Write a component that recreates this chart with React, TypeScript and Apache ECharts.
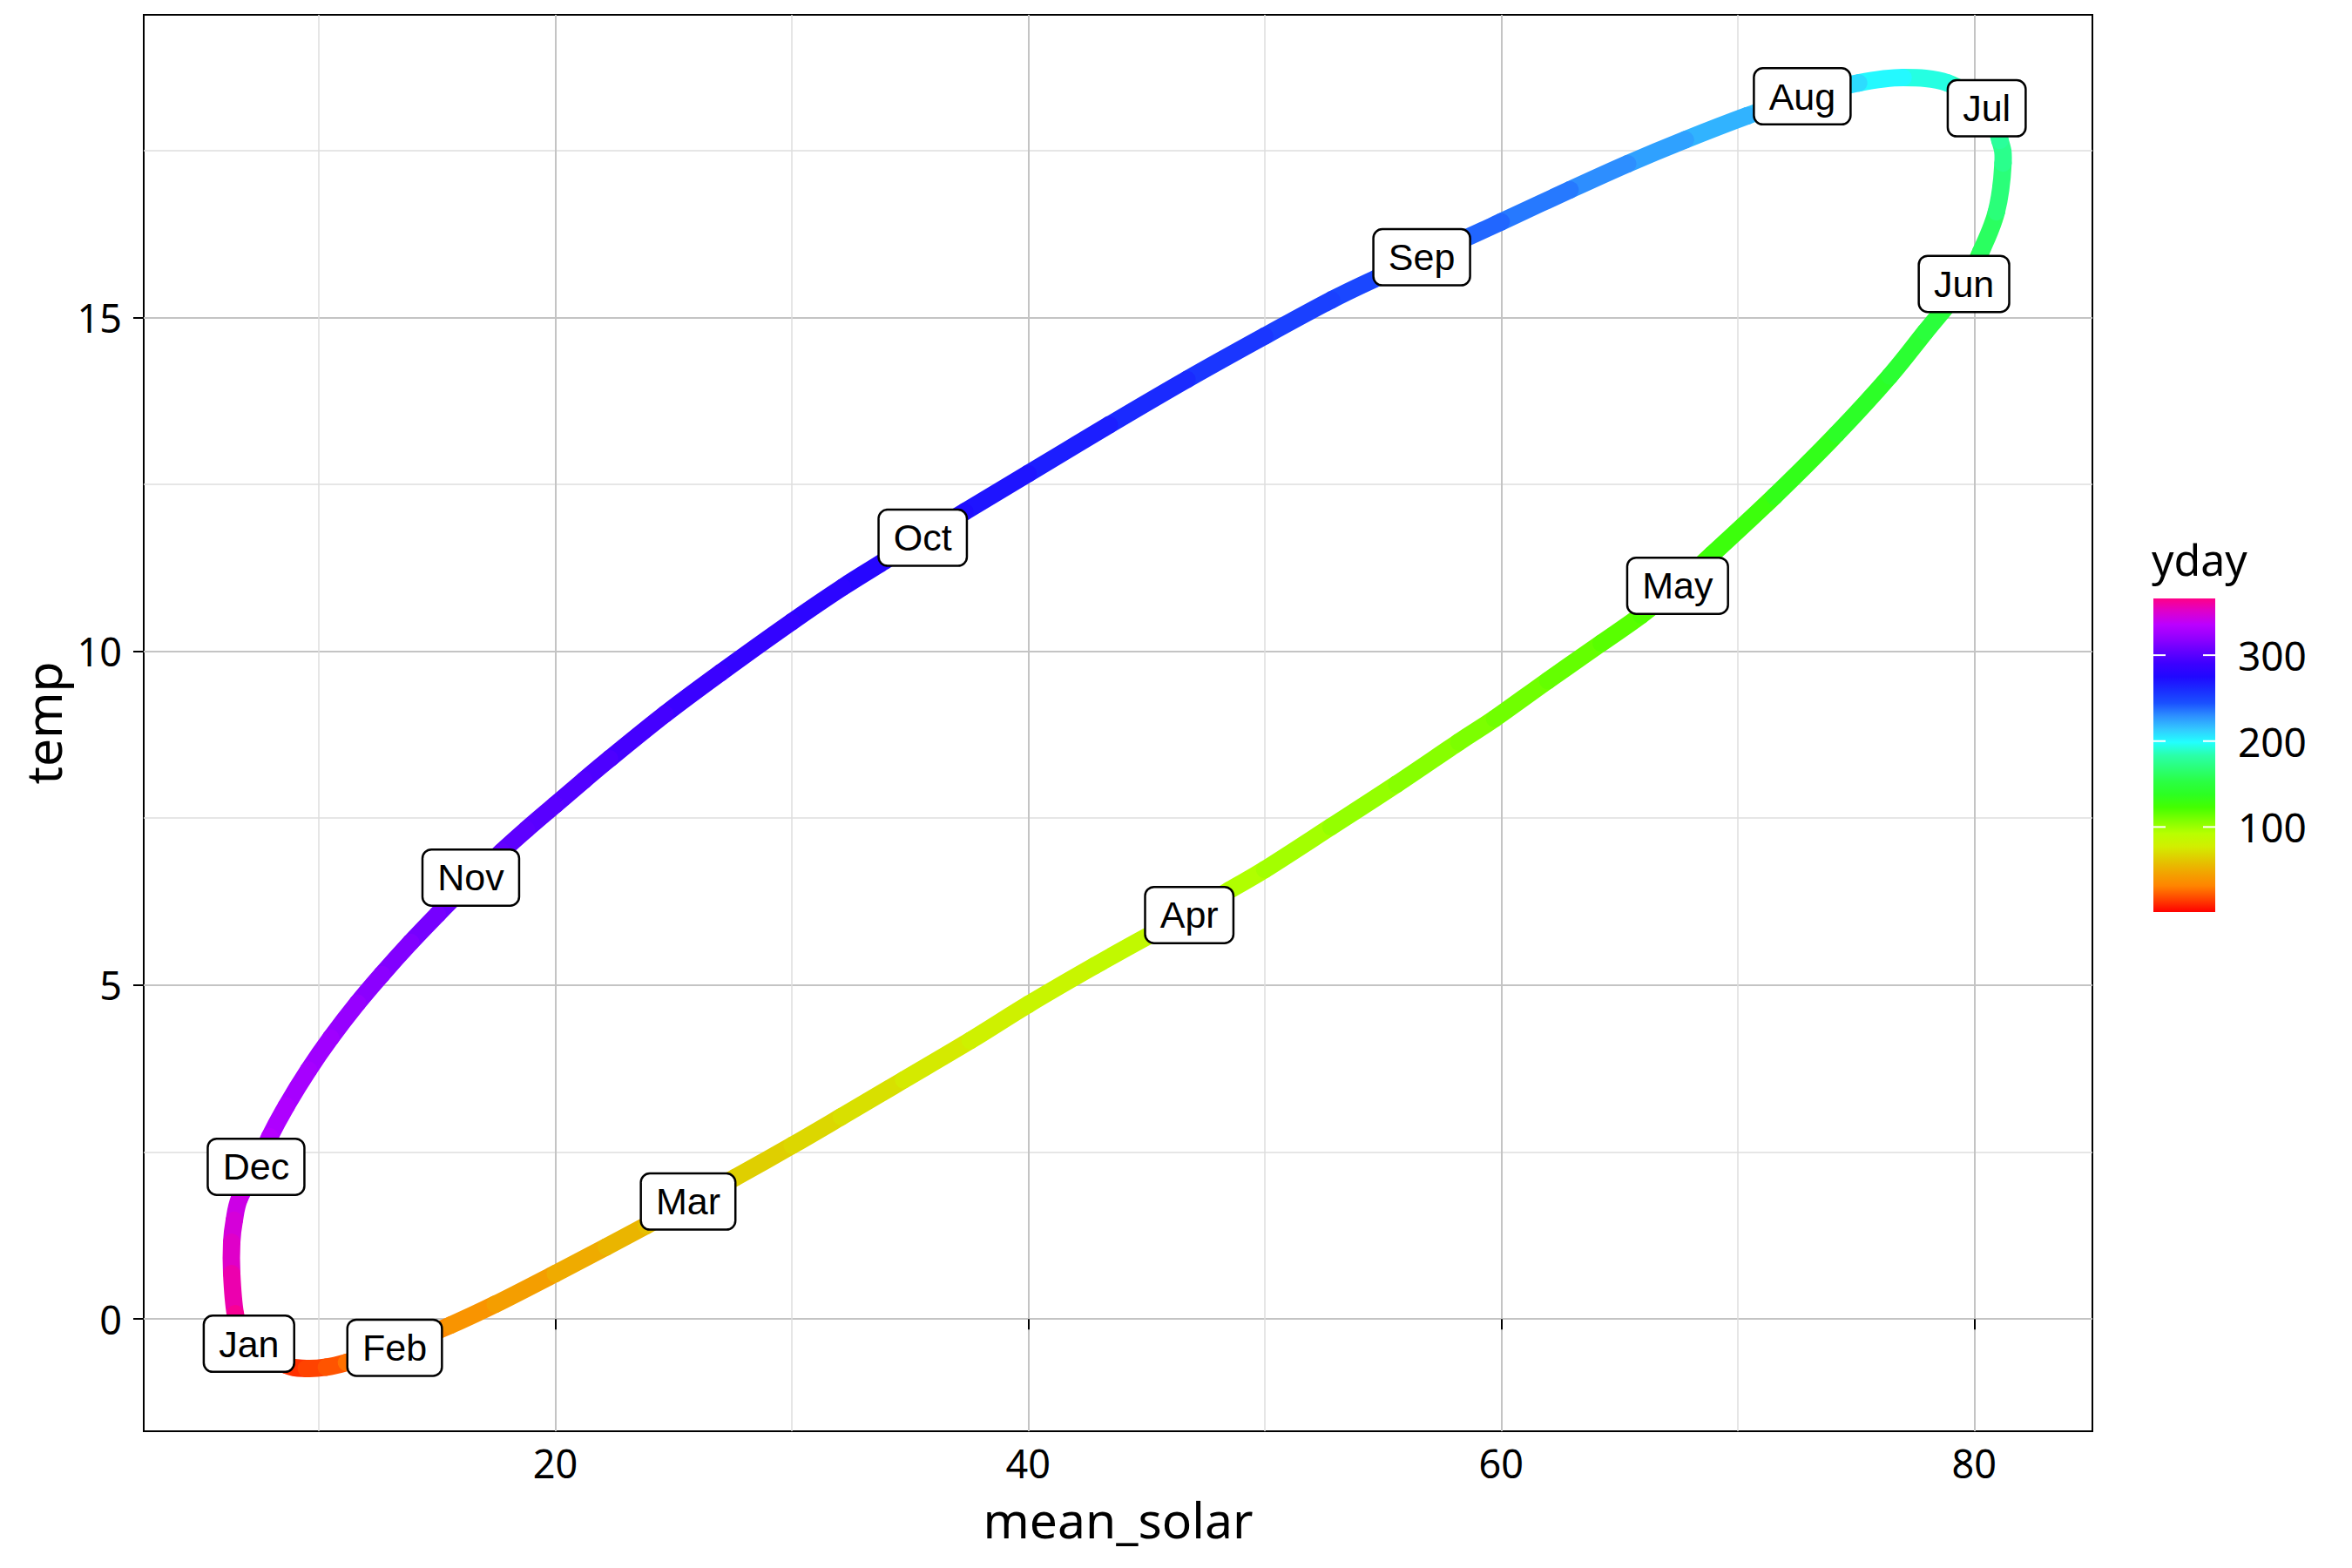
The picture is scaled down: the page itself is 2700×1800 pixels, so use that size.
import { useEffect, useRef } from "react";
import * as echarts from "echarts";

// path: mean_solar, temp and the day of year at each point
const pathX = [
  7.05, 8.63, 9.47, 10.32, 11.17, 13.21, 15.58, 17.46, 20.0, 22.16, 23.85, 25.62, 27.61, 30.02, 32.1,
  34.73, 37.55, 40.0, 42.81, 45.25, 46.81, 48.5, 50.0, 52.8, 55.58, 58.21, 59.72, 61.97, 64.23, 65.92,
  67.46, 68.92, 71.55, 74.18, 76.43, 77.93, 79.57, 80.28, 80.94, 81.22, 81.09, 80.53, 78.87,
  77.0, 75.12, 72.73, 70.42, 67.79, 65.35, 62.91, 60.0, 58.4, 56.64, 54.81, 52.82, 50.0, 46.71, 43.43,
  40.0, 37.32, 35.54, 33.92, 32.16, 30.0, 27.0, 24.65, 22.3, 21.22, 20.0, 18.78, 17.74, 16.43, 15.02,
  13.89, 12.67, 11.64, 10.51, 9.57, 8.63, 7.93, 7.35, 6.65, 6.43, 6.32, 6.32, 6.47, 6.75,
];
const pathY = [
  -0.37, -0.69, -0.74, -0.72, -0.65, -0.43, -0.09, 0.22, 0.68, 1.08, 1.4, 1.74, 2.12, 2.6, 3.03,
  3.58, 4.17, 4.71, 5.29, 5.77, 6.05, 6.42, 6.73, 7.37, 8.01, 8.64, 8.99, 9.56, 10.12, 10.54,
  10.98, 11.45, 12.32, 13.25, 14.12, 14.78, 15.5, 15.98, 16.58, 17.31, 17.65, 18.13, 18.51,
  18.59, 18.51, 18.3, 18.02, 17.66, 17.3, 16.91, 16.43, 16.17, 15.9, 15.6, 15.26, 14.72, 14.07, 13.39,
  12.66, 12.09, 11.71, 11.35, 10.96, 10.44, 9.68, 9.06, 8.39, 8.07, 7.7, 7.33, 7.0, 6.56, 6.06,
  5.64, 5.16, 4.73, 4.21, 3.73, 3.19, 2.73, 2.27, 1.81, 1.48, 1.15, 0.68, 0.08, -0.22,
];
const pathDay = [
  1, 10, 14, 18, 22, 32, 37, 41, 47, 52, 56, 60, 63, 66, 70,
  73, 78, 81, 85, 89, 91, 93, 96, 100, 104, 107, 110, 113, 116, 119,
  121, 125, 131, 137, 143, 147, 152, 158, 165, 173, 176, 182, 190,
  197, 204, 213, 217, 222, 227, 232, 237, 241, 244, 247, 249, 253, 258, 263,
  268, 271, 274, 277, 279, 283, 287, 291, 295, 297, 299, 301, 303, 305, 309,
  312, 316, 319, 323, 326, 329, 332, 335, 341, 345, 349, 354, 361, 365,
];

const monthNames = ["Jan", "Feb", "Mar", "Apr", "May", "Jun", "Jul", "Aug", "Sep", "Oct", "Nov", "Dec"];
const monthX = [7.05, 13.21, 25.62, 46.81, 67.46, 79.57, 80.53, 72.73, 56.64, 35.54, 16.43, 7.35];
const monthY = [-0.37, -0.43, 1.76, 6.05, 10.98, 15.5, 18.13, 18.31, 15.9, 11.7, 6.61, 2.28];

const xTicks = [20, 40, 60, 80];
const yTicks = [0, 5, 10, 15];
const legendTicks = [100, 200, 300];
const dayRange = [1, 366];

// colour ramp for yday, evenly spaced from dayRange[0] to dayRange[1]
const palette = [
  "#ff0000", "#ff4400", "#ff8400", "#f2a400", "#e2c800", "#d2ee00", "#b8ff00", "#80ff00",
  "#44ff00", "#2cff22", "#2aff44", "#2aff77", "#2affaa", "#22ffff", "#33c8ff", "#2d90ff",
  "#1a50ff", "#1a2cff", "#2008ff", "#3c00ff", "#6600ff", "#9400ff", "#bb00ff", "#dd00cc",
  "#ff0088",
];

export default function App() {
  const chartRef = useRef<HTMLDivElement>(null);

  useEffect(() => {
    if (!chartRef.current) return;
    const chart = echarts.init(chartRef.current, null, { renderer: "svg" });

    // each piece of the path carries its neighbours so it can be drawn as a smooth curve
    const n = pathX.length;
    const at = (i: number) => (i + n) % n;
    const segments = pathX.slice(0, n - 1).map((_, i) => [
      pathX[at(i - 1)], pathY[at(i - 1)],
      pathX[i], pathY[i],
      pathX[i + 1], pathY[i + 1],
      pathX[at(i + 2)], pathY[at(i + 2)],
      (pathDay[i] + pathDay[i + 1]) / 2,
    ]);
    const labels = monthNames.map((m, i) => [monthX[i], monthY[i], m]);

    // legend layout
    const barLeft = 2472;
    const barTop = 687;
    const barW = 71;
    const barH = 360;
    const dayToY = (d: number) =>
      barTop + barH - ((d - dayRange[0]) / (dayRange[1] - dayRange[0])) * barH;

    const axisFont = { fontFamily: "Noto Sans", color: "#000" };

    const option: echarts.EChartsOption = {
      animation: false,
      backgroundColor: "#fff",
      grid: {
        left: 165,
        top: 17,
        width: 2237,
        height: 1626,
        show: true,
        borderColor: "#000",
        borderWidth: 2,
        outerBoundsMode: "none",
      } as any,
      xAxis: {
        type: "value",
        min: 2.6,
        max: 85,
        splitNumber: 4,
        name: "mean_solar",
        nameLocation: "middle",
        nameGap: 72,
        nameTextStyle: { ...axisFont, fontSize: 57 },
        axisLine: { show: false },
        axisTick: { show: true, length: 12, lineStyle: { color: "#000", width: 2 }, customValues: xTicks } as any,
        axisLabel: {
          ...axisFont,
          fontSize: 45,
          margin: 14,
          customValues: xTicks,
          formatter: (v: number) => (xTicks.includes(v) ? String(v) : ""),
        } as any,
        splitLine: { show: true, lineStyle: { color: "#c4c4c4", width: 2 } },
        minorTick: { show: false, splitNumber: 2 },
        minorSplitLine: { show: true, lineStyle: { color: "#dedede", width: 1.5 } },
      },
      yAxis: {
        type: "value",
        min: -1.68,
        max: 19.53,
        splitNumber: 4,
        name: "temp",
        nameLocation: "middle",
        nameGap: 88,
        nameRotate: 90,
        nameTextStyle: { ...axisFont, fontSize: 57 },
        axisLine: { show: false },
        axisTick: { show: true, length: 12, lineStyle: { color: "#000", width: 2 }, customValues: yTicks } as any,
        axisLabel: {
          ...axisFont,
          fontSize: 45,
          margin: 25,
          customValues: yTicks,
          formatter: (v: number) => (yTicks.includes(v) ? String(v) : ""),
        } as any,
        splitLine: { show: true, lineStyle: { color: "#c4c4c4", width: 2 } },
        minorTick: { show: false, splitNumber: 2 },
        minorSplitLine: { show: true, lineStyle: { color: "#dedede", width: 1.5 } },
      },
      visualMap: {
        type: "continuous",
        show: false,
        seriesIndex: 0,
        dimension: 8,
        min: dayRange[0],
        max: dayRange[1],
        inRange: { color: palette },
      },
      series: [
        {
          type: "custom",
          coordinateSystem: "cartesian2d",
          data: segments,
          encode: { x: [2, 4], y: [3, 5] },
          renderItem: (_params: any, api: any) => {
            const p0 = api.coord([api.value(0), api.value(1)]);
            const p1 = api.coord([api.value(2), api.value(3)]);
            const p2 = api.coord([api.value(4), api.value(5)]);
            const p3 = api.coord([api.value(6), api.value(7)]);
            return {
              type: "bezierCurve",
              shape: {
                x1: p1[0],
                y1: p1[1],
                x2: p2[0],
                y2: p2[1],
                cpx1: p1[0] + (p2[0] - p0[0]) / 6,
                cpy1: p1[1] + (p2[1] - p0[1]) / 6,
                cpx2: p2[0] - (p3[0] - p1[0]) / 6,
                cpy2: p2[1] - (p3[1] - p1[1]) / 6,
              },
              style: { stroke: api.visual("color"), fill: "none", lineWidth: 20, lineCap: "round" },
            };
          },
        } as any,
        {
          type: "scatter",
          data: labels,
          symbolSize: 1,
          itemStyle: { color: "rgba(0,0,0,0)", opacity: 1 },
          z: 5,
          label: {
            show: true,
            position: "inside",
            formatter: (p: any) => p.data[2],
            fontFamily: "Liberation Sans",
            fontSize: 43,
            lineHeight: 48,
            color: "#000",
            opacity: 1,
            backgroundColor: "#fff",
            borderColor: "#000",
            borderWidth: 2.5,
            borderRadius: 9,
            padding: [7, 16, 7, 16],
          } as any,
        },
      ],
      graphic: [
        {
          type: "text",
          x: 2470,
          y: 642,
          style: { text: "yday", fontFamily: "Noto Sans", fontSize: 50, fill: "#000", verticalAlign: "middle" },
        },
        {
          type: "rect",
          shape: { x: barLeft, y: barTop, width: barW, height: barH },
          style: {
            fill: new echarts.graphic.LinearGradient(
              0,
              1,
              0,
              0,
              palette.map((c, i) => ({ offset: i / (palette.length - 1), color: c }))
            ),
          },
        },
        ...legendTicks.flatMap((t) => [
          {
            type: "line",
            shape: { x1: barLeft, y1: dayToY(t), x2: barLeft + 14, y2: dayToY(t) },
            style: { stroke: "#fff", lineWidth: 2 },
          },
          {
            type: "line",
            shape: { x1: barLeft + barW - 14, y1: dayToY(t), x2: barLeft + barW, y2: dayToY(t) },
            style: { stroke: "#fff", lineWidth: 2 },
          },
          {
            type: "text",
            x: 2569,
            y: dayToY(t),
            style: { text: String(t), fontFamily: "Noto Sans", fontSize: 46, fill: "#000", verticalAlign: "middle" },
          },
        ]),
      ] as any,
    };

    chart.setOption(option);

    return () => {
      chart.dispose();
    };
  }, []);

  return (
    <div
      ref={chartRef}
      style={{ position: "absolute", left: 0, top: 0, width: 2700, height: 1800 }}
    />
  );
}
